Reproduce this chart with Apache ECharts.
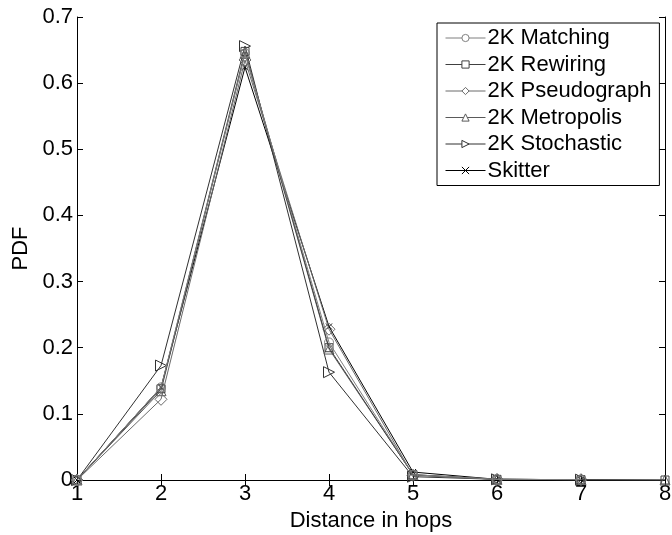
<!DOCTYPE html>
<html>
<head>
<meta charset="utf-8">
<script src="https://cdn.jsdelivr.net/npm/echarts@6/dist/echarts.min.js"></script>
<style>
  html, body { margin: 0; padding: 0; background: #fff; }
  #chart { width: 672px; height: 535px; }
</style>
</head>
<body>
<div id="chart"></div>
<script>
// Hop distances on the x axis
const hops = [1, 2, 3, 4, 5, 6, 7, 8];

// PDF of path length for each graph (null where a graph has no value)
const matching    = [0, 0.140, 0.645, 0.208, 0.008, 0.001, 0.0005, null];
const rewiring    = [0, 0.138, 0.648, 0.200, 0.008, 0.001, 0.0005, 0];
const pseudograph = [0, 0.122, 0.635, 0.228, 0.007, 0.001, 0.0005, null];
const metropolis  = [0, 0.135, 0.645, 0.198, 0.008, 0.001, 0.0005, 0];
const stochastic  = [0, 0.173, 0.656, 0.163, 0.005, 0.001, 0.0005, null];
const skitter     = [0, 0.140, 0.624, 0.232, 0.012, 0.001, 0.0005, null];

const seriesNames = ['2K Matching', '2K Rewiring', '2K Pseudograph', '2K Metropolis', '2K Stochastic', 'Skitter'];
const seriesValues = [matching, rewiring, pseudograph, metropolis, stochastic, skitter];

const styles = [
  { color: '#7f7f7f', symbol: 'circle', size: 9, rotate: 0 },
  { color: '#404040', symbol: 'rect', size: 8, rotate: 0 },
  { color: '#6a6a6a', symbol: 'diamond', size: 12, rotate: 0 },
  { color: '#5a5a5a', symbol: 'triangle', size: 10, rotate: 0 },
  { color: '#303030', symbol: 'triangle', size: 11, rotate: -90 },
  { color: '#000000', symbol: 'path://M0,0L10,10M10,0L0,10', size: 6, rotate: 0 }
];

const font = 'Liberation Sans, Arial, Helvetica, sans-serif';
const fs = 22;

const series = seriesNames.map((name, i) => {
  const st = styles[i];
  const pts = [];
  seriesValues[i].forEach((v, k) => { if (v !== null) pts.push([hops[k], v]); });
  return {
    name: name,
    type: 'line',
    data: pts,
    symbol: st.symbol,
    symbolSize: st.size,
    symbolRotate: st.rotate,
    showAllSymbol: true,
    lineStyle: { color: st.color, width: 1 },
    itemStyle: { color: 'rgba(255,255,255,0)', borderColor: st.color, borderWidth: 1 },
    emphasis: { disabled: true },
    animation: false,
    z: 10 - i
  };
});

const chart = echarts.init(document.getElementById('chart'), null, { renderer: 'canvas' });

const axisLine = { show: true, lineStyle: { color: '#000', width: 1 } };
const ticks = { show: true, inside: true, length: 6, lineStyle: { color: '#000' } };

chart.setOption({
  backgroundColor: '#fff',
  animation: false,
  grid: { left: 77, right: 7, top: 17, bottom: 55, containLabel: false, outerBoundsMode: 'none' },
  legend: {
    orient: 'vertical',
    left: 437,
    top: 23,
    itemWidth: 40,
    itemHeight: 9,
    itemGap: 4.5,
    padding: [4, 8, 4, 8],
    borderColor: '#000',
    borderWidth: 1,
    backgroundColor: '#fff',
    itemStyle: { color: '#fff', borderWidth: 1 },
    lineStyle: { width: 1 },
    textStyle: { fontFamily: font, fontSize: fs, color: '#000', padding: [0, 0, 0, -3] },
    data: seriesNames
  },
  xAxis: [
    {
      type: 'value', min: 1, max: 8, interval: 1,
      name: 'Distance in hops', nameLocation: 'middle', nameGap: 27,
      nameTextStyle: { fontFamily: font, fontSize: fs, color: '#000' },
      axisLine: axisLine,
      axisTick: ticks,
      axisLabel: { fontFamily: font, fontSize: fs, color: '#000', margin: 3 },
      splitLine: { show: false }
    },
    {
      type: 'value', min: 1, max: 8, interval: 1, position: 'top',
      axisLine: axisLine,
      axisTick: ticks,
      axisLabel: { show: false },
      splitLine: { show: false }
    }
  ],
  yAxis: [
    {
      type: 'value', min: 0, max: 0.7, interval: 0.1,
      name: 'PDF', nameLocation: 'middle', nameGap: 44,
      nameTextStyle: { fontFamily: font, fontSize: fs, color: '#000' },
      axisLine: axisLine,
      axisTick: ticks,
      axisLabel: {
        fontFamily: font, fontSize: fs, color: '#000', margin: 4,
        formatter: v => (v === 0 ? '0' : v.toFixed(1))
      },
      splitLine: { show: false }
    },
    {
      type: 'value', min: 0, max: 0.7, interval: 0.1, position: 'right',
      axisLine: axisLine,
      axisTick: ticks,
      axisLabel: { show: false },
      splitLine: { show: false }
    }
  ],
  series: series
});
</script>
</body>
</html>
